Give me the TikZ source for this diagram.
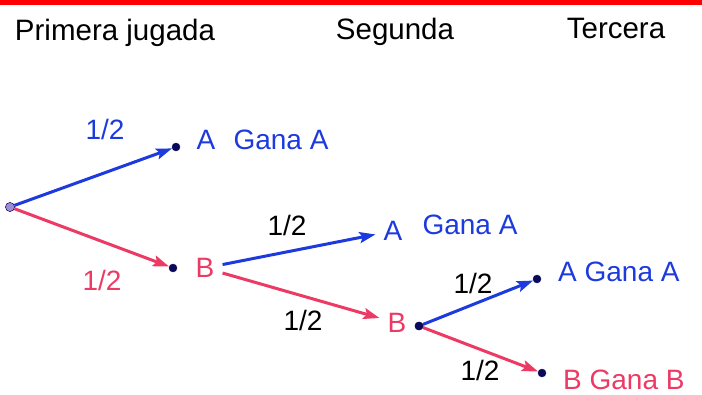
\documentclass[tikz,border=0pt]{standalone}
\usepackage{fontspec}
\setmainfont{Liberation Sans}
\usetikzlibrary{arrows.meta,positioning}
\definecolor{azul}{RGB}{28,58,222}
\definecolor{rosa}{RGB}{236,58,100}
\definecolor{punto}{RGB}{10,10,90}
\definecolor{raiz}{RGB}{160,140,210}
\tikzset{
  % branch of the tree
  rama/.style = {
    line width = 3pt,
    -{Stealth[length=16pt,width=11pt,inset=3pt]}
  },
  % end point of a branch
  dot/.style = {
    circle,
    draw = punto,
    fill = punto,
    minimum size = 8pt,
    inner sep = 0
  },
  % text next to the points
  lbl/.style = {
    font = \fontsize{28}{30}\selectfont,
    inner sep = 8pt
  },
  % column headings
  head/.style = {
    font = \fontsize{29.5}{32}\selectfont,
    inner sep = 0
  }
}
\begin{document}
\begin{tikzpicture}[x=1pt,y=-1pt]
    \useasboundingbox (0,0) rectangle (702,394);
    \fill[red] (0,0) rectangle (702,5);

    \node[head] (h1) at (115,33) {Primera jugada};
    \node[head] (h2) at (395,32) {Segunda};
    \node[head] (h3) at (616,28) {Tercera};

    % first move
    \node[dot, fill=raiz, minimum size=9pt] (root) at (10,207) {};
    \node[dot] (a1) at (176,147) {};
    \node[dot] (b1) at (173,268) {};
    \node[lbl, azul] (a1lbl) at (206,140) {A};
    \node[lbl, azul] (a1win) at (281,140) {Gana A};
    \node[lbl, rosa] (b1lbl) at (205,268) {B};
    \node[lbl, azul] (p1) at (105,129) {1/2};
    \node[lbl, rosa] (p2) at (102,280) {1/2};

    % second move
    \node[lbl, azul] (a2lbl) at (393,231) {A};
    \node[lbl, azul] (a2win) at (470,225) {Gana A};
    \node[lbl, rosa] (b2lbl) at (397,323) {B};
    \node[dot] (b2) at (419,326) {};
    \node[lbl] (p3) at (287,225) {1/2};
    \node[lbl] (p4) at (303,320) {1/2};

    % third move
    \node[dot] (a3) at (537,279) {};
    \node[dot] (b3) at (542,373) {};
    \node[lbl, azul, anchor=west, inner sep=0] (a3lbl) at (558,272) {A Gana A};
    \node[lbl, rosa, anchor=west, inner sep=0] (b3lbl) at (563,380) {B Gana B};
    \node[lbl] (p5) at (473,283) {1/2};
    \node[lbl] (p6) at (480,370) {1/2};

    % branches
    \draw[rama, azul] (root) -- (a1);
    \draw[rama, rosa] (root) -- (b1);
    \draw[rama, azul] (b1lbl) -- (a2lbl);
    \draw[rama, rosa] (b1lbl) -- (b2lbl);
    \draw[rama, azul] (b2) -- (a3);
    \draw[rama, rosa] (b2) -- (b3);

    % points on top of the arrows
    \node[dot, fill=raiz, minimum size=9pt] at (root) {};
    \node[dot] at (b2) {};
\end{tikzpicture}
\end{document}
